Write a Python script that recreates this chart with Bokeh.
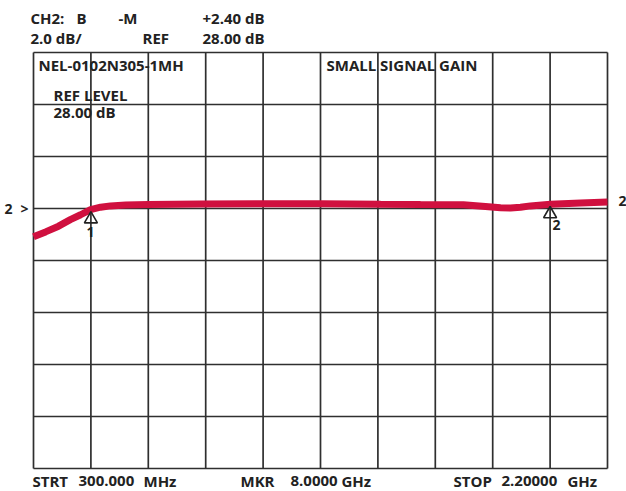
from bokeh.plotting import figure
from bokeh.models import Label
from bokeh.embed import file_html
from bokeh.resources import INLINE
import numpy as np

# Sweep settings (GHz) and scale (dB)
start_ghz = 0.3
stop_ghz = 2.2
divisions_x = 10
ref_level = 28.0
db_per_div = 2.0
ref_div_from_top = 3
divisions_y = 8

# Small-signal gain trace
freq_ghz = [0.300, 0.340, 0.383, 0.422, 0.456, 0.489, 0.522, 0.555, 0.605, 0.681,
            0.853, 1.051, 1.251, 1.449, 1.581, 1.723, 1.796, 1.846, 1.879, 1.912,
            1.945, 2.011, 2.111, 2.200]
gain_db = [26.91, 27.10, 27.32, 27.57, 27.76, 27.96, 28.05, 28.10, 28.13, 28.15,
           28.17, 28.18, 28.18, 28.16, 28.15, 28.14, 28.08, 28.03, 28.02, 28.05,
           28.10, 28.16, 28.21, 28.25]

# Markers: frequency and label
marker_freq = [0.49, 2.01]
marker_names = ["1", "2"]

top_db = ref_level + ref_div_from_top * db_per_div
bottom_db = top_db - divisions_y * db_per_div
step_x = (stop_ghz - start_ghz) / divisions_x

# canvas and graticule placement (pixels)
W, H = 626, 491
L, R, T, B = 33, 19, 52, 23
gw, gh = W - L - R, H - T - B
ux = (stop_ghz - start_ghz) / gw      # GHz per pixel
uy = (top_db - bottom_db) / gh        # dB per pixel

# the plotting frame spans the whole canvas so that header/footer text can live in it
p = figure(width=W, height=H, output_backend="svg", toolbar_location=None,
           x_range=(start_ghz - L * ux, stop_ghz + R * ux),
           y_range=(bottom_db - B * uy, top_db + T * uy),
           min_border=0)
p.xaxis.visible = False
p.yaxis.visible = False
p.xgrid.visible = False
p.ygrid.visible = False
p.outline_line_color = None
p.background_fill_color = "white"
p.border_fill_color = "white"

grid_color = "#2f2f2f"
# graticule: vertical divisions
vx = [start_ghz + i * step_x for i in range(divisions_x + 1)]
p.segment(x0=vx, y0=[bottom_db] * len(vx), x1=vx, y1=[top_db] * len(vx),
          line_color=grid_color, line_width=1.7)
# horizontal divisions
hy = [bottom_db + i * db_per_div for i in range(divisions_y + 1)]
p.segment(x0=[start_ghz] * len(hy), y0=hy, x1=[stop_ghz] * len(hy), y1=hy,
          line_color=grid_color, line_width=1.7)

p.line(freq_ghz, gain_db, line_color="#D0103F", line_width=7)

# marker triangles sit just under the trace
m_y = [float(np.interp(f, freq_ghz, gain_db)) - 0.37 for f in marker_freq]
p.scatter(marker_freq, m_y, marker="triangle", size=13, fill_alpha=0,
          line_color="#222222", line_width=1.6)


def to_x(px):
    return start_ghz + (px - L) * ux


def to_y(py):
    return top_db - (py - T) * uy


FONT = "Open Sans"
RAISE = 6  # baseline correction for the label renderer


def label(text, px, py, size=15, align="left"):
    p.add_layout(Label(x=to_x(px), y=to_y(py - RAISE), text=text, text_font=FONT,
                       text_font_size=f"{size}px", text_font_style="bold",
                       text_color="#222222", text_align=align,
                       text_baseline="alphabetic"))


# header
label("CH2:", 30, 23)
label("B", 76, 23)
label("-M", 118, 23)
label("+2.40 dB", 202, 23)
label("2.0 dB/", 30, 43)
label("REF", 142, 43)
label("28.00 dB", 202, 43)

# in-grid annotations
label("NEL-0102N305-1MH", 38, 70)
label("REF LEVEL", 53, 100)
label("28.00 dB", 53, 117)
label("SMALL SIGNAL GAIN", 326, 70)

# reference position indicators
label("2", 4, 214, 14)
label(">", 20, 214, 14)
label("2", 618, 206, 14)

# marker numbers
label(marker_names[0], 90, 237, 14, "center")
label(marker_names[1], 552, 230, 14)

# footer
label("STRT", 32, 486)
label("300.000", 78, 486)
label("MHz", 143, 486)
label("MKR", 240, 486)
label("8.0000", 290, 486)
label("GHz", 341, 486)
label("STOP", 453, 486)
label("2.20000", 501, 486)
label("GHz", 567, 486)

open("out.html", "w").write(file_html(p, INLINE))
